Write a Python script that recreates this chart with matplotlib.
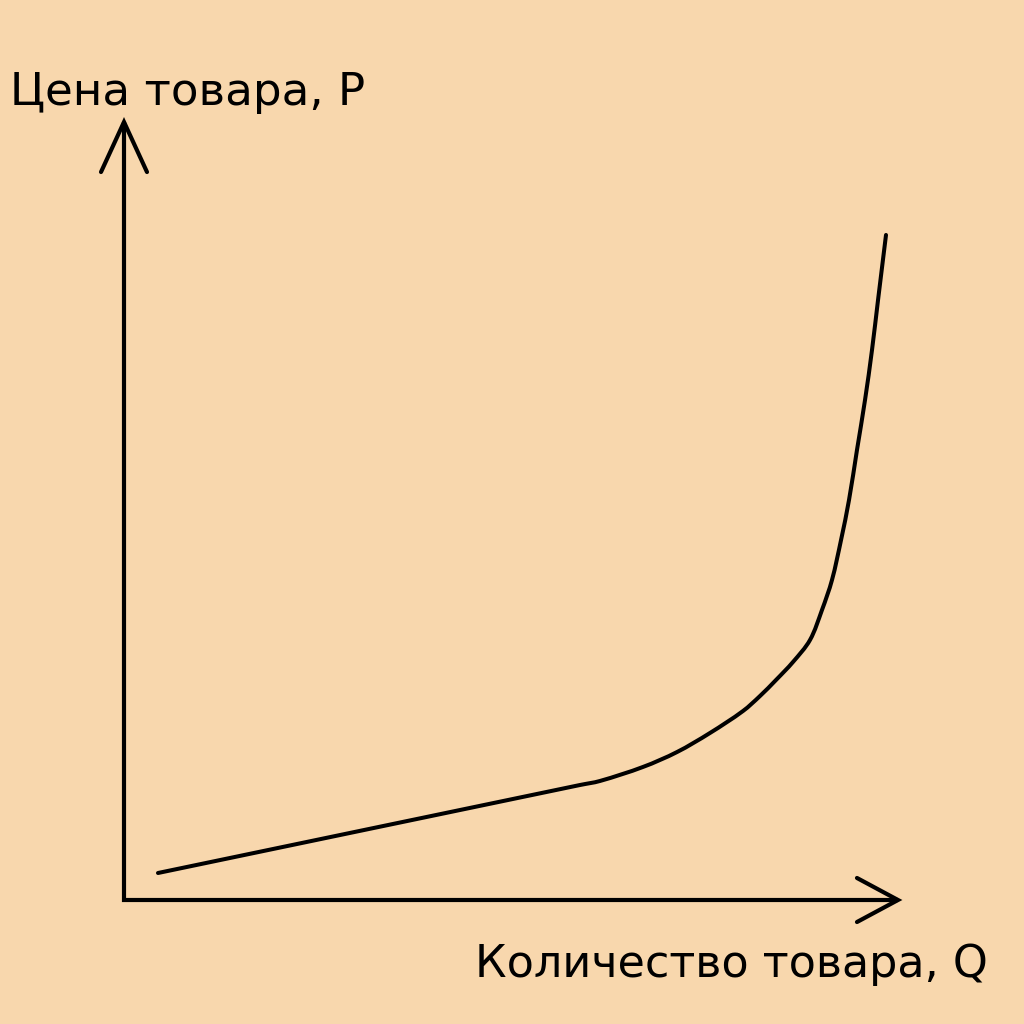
import matplotlib
matplotlib.use("Agg")
import matplotlib.pyplot as plt
import numpy as np
from matplotlib.path import Path
from matplotlib.patches import PathPatch

# Data (Q, P) in axis units 0..100
Q = [4.39, 58.91, 61.50, 67.05, 71.45, 75.71, 79.97, 82.17, 84.24, 86.43, 88.63,
     90.18, 91.47, 92.64, 93.67, 94.70, 95.74, 96.64, 97.42, 98.45]
P = [3.47, 14.78, 15.30, 17.10, 19.02, 21.47, 24.29, 26.22, 28.28, 30.59, 33.42,
     37.28, 41.13, 46.27, 51.41, 57.84, 64.27, 70.69, 77.12, 85.48]
ylabel_text = "Цена товара, P"
xlabel_text = "Количество товара, Q"

BG = "#F8D7AD"
W = H = 1024
fig = plt.figure(figsize=(10.24, 10.24), dpi=100, facecolor=BG)
ax = fig.add_axes([124 / W, (H - 900) / H, 774 / W, 778 / H])
ax.set_facecolor(BG)
ax.set_xlim(0, 100)
ax.set_ylim(0, 100)
for s in ax.spines.values():
    s.set_visible(False)
ax.set_xticks([])
ax.set_yticks([])

lw_axis = 3.0
# axes lines
ax.plot([0, 0, 1], [1, 0, 0], transform=ax.transAxes, color="black", lw=lw_axis,
        clip_on=False, solid_joinstyle="miter", solid_capstyle="butt")
# arrow heads (open V)
ax.plot([-0.0297, 0, 0.0297], [1 - 0.0643, 1, 1 - 0.0643], transform=ax.transAxes,
        color="black", lw=lw_axis, clip_on=False, solid_joinstyle="miter", solid_capstyle="round")
ax.plot([1 - 0.053, 1, 1 - 0.053], [0.0283, 0, -0.0283], transform=ax.transAxes,
        color="black", lw=lw_axis, clip_on=False, solid_joinstyle="miter", solid_capstyle="round")

# smooth curve through the read points (cubic Bezier segments)
pts = np.column_stack([Q, P])
n = len(pts)
tang = np.zeros_like(pts)
for i in range(n):
    if i == 0:
        d = pts[1] - pts[0]
    elif i == n - 1:
        d = pts[-1] - pts[-2]
    else:
        d = pts[i + 1] - pts[i - 1]
    tang[i] = d / np.linalg.norm(d)
verts = [tuple(pts[0])]
codes = [Path.MOVETO]
for i in range(n - 1):
    L = np.linalg.norm(pts[i + 1] - pts[i])
    c1 = pts[i] + tang[i] * L / 3
    c2 = pts[i + 1] - tang[i + 1] * L / 3
    verts += [tuple(c1), tuple(c2), tuple(pts[i + 1])]
    codes += [Path.CURVE4] * 3
patch = PathPatch(Path(verts, codes), facecolor="none", edgecolor="black", lw=2.9,
                  capstyle="round", joinstyle="round", clip_on=False)
ax.add_patch(patch)

font = "DejaVu Sans"
fig.text(10 / W, 1 - 105 / H, ylabel_text, fontsize=32.5, family=font, color="black",
         ha="left", va="baseline")
fig.text(988 / W, 1 - 977 / H, xlabel_text, fontsize=32, family=font, color="black",
         ha="right", va="baseline")

fig.savefig("out.png", dpi=100, facecolor=BG)
